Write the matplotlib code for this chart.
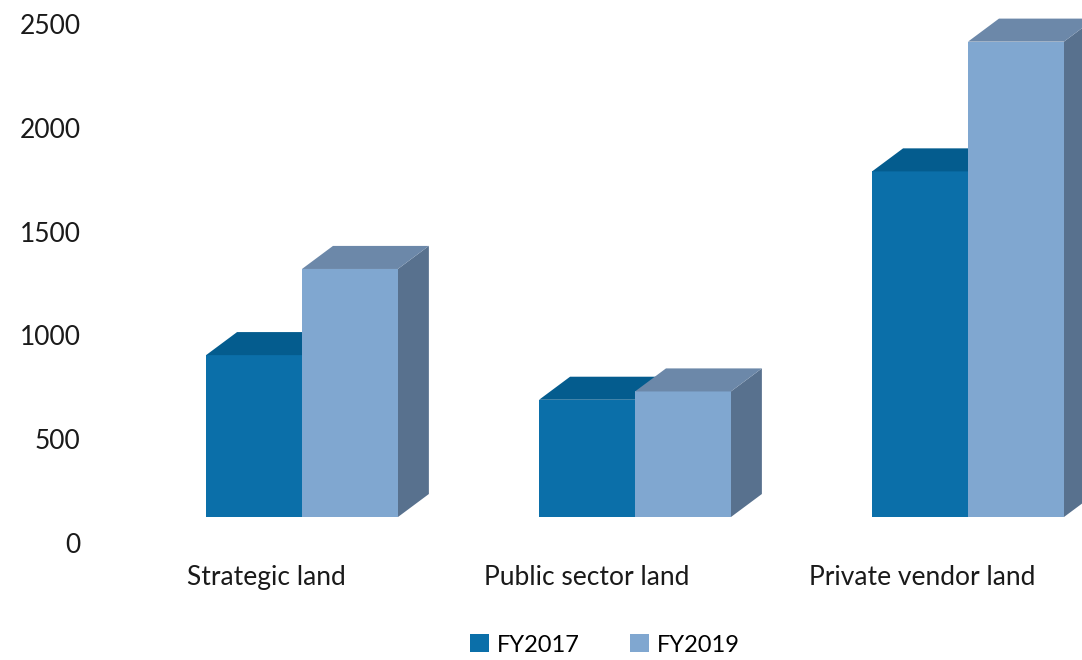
import matplotlib.pyplot as plt
from matplotlib.patches import Polygon, Patch

plt.rcParams['font.family'] = ['Lato', 'DejaVu Sans']

categories = ['Strategic land', 'Public sector land', 'Private vendor land']
series_names = ['FY2017', 'FY2019']
fy2017 = [780, 565, 1665]
fy2019 = [1195, 605, 2290]
y_ticks = [0, 500, 1000, 1500, 2000, 2500]

# face colours: front, top, side
colors = {
    'FY2017': ('#0B6FA9', '#045C8E', '#044E78'),
    'FY2019': ('#80A7D0', '#6C88A9', '#58718E'),
}
legend_colors = ['#0B6FA9', '#80A7D0']

W, H = 1082, 660
fig = plt.figure(figsize=(W / 100, H / 100), dpi=100)
ax = fig.add_axes([100 / W, 117 / H, 982 / W, 543 / H])

bar_w = 0.288
depth_x = 0.093
depth_y = 111
floor = 125
label_shift = [-0.108, -0.144, -0.138]


def draw_box(x0, value, cols):
    front, top, side = cols
    y0 = floor
    y1 = floor + value
    x1 = x0 + bar_w
    ax.bar(x0, value, width=bar_w, bottom=y0, align='edge', color=front,
           linewidth=0, zorder=2)
    ax.add_patch(Polygon([(x0, y1), (x1, y1), (x1 + depth_x, y1 + depth_y),
                          (x0 + depth_x, y1 + depth_y)], closed=True,
                         facecolor=top, linewidth=0, zorder=2))
    ax.add_patch(Polygon([(x1, y0), (x1 + depth_x, y0 + depth_y),
                          (x1 + depth_x, y1 + depth_y), (x1, y1)], closed=True,
                         facecolor=side, linewidth=0, zorder=1))


for i in range(len(categories)):
    draw_box(i - bar_w, fy2017[i], colors['FY2017'])
    draw_box(i, fy2019[i], colors['FY2019'])

ax.set_xlim(-0.6066, 2.3423)
ax.set_ylim(0, 2615.6)

ax.set_yticks(y_ticks)
ax.set_yticklabels([str(t) for t in y_ticks], fontsize=19, color='#1a1a1a')
ax.tick_params(axis='y', length=0, pad=14)

ax.set_xticks([i + label_shift[i] for i in range(len(categories))])
ax.set_xticklabels(categories, fontsize=19, color='#1a1a1a')
ax.tick_params(axis='x', length=0, pad=16)

for s in ax.spines.values():
    s.set_visible(False)

handles = [Patch(facecolor=c, edgecolor='none') for c in legend_colors]
fig.legend(handles, series_names, loc='center', bbox_to_anchor=(605 / W, 1 - 645 / H),
           ncol=2, frameon=False, fontsize=17, handlelength=0.8, handleheight=0.8,
           handletextpad=0.35, columnspacing=2.1)

fig.savefig('out.png', dpi=100)
